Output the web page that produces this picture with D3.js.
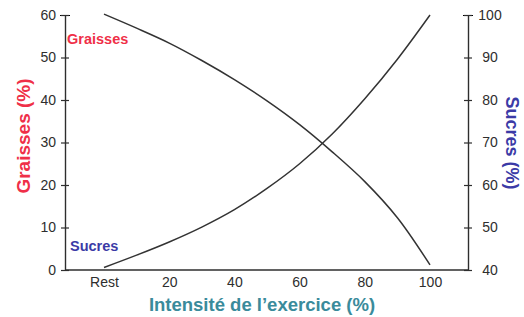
<!DOCTYPE html>
<html><head><meta charset="utf-8">
<script src="https://cdn.jsdelivr.net/npm/d3@7"></script>
<style>body{margin:0;background:#fff}svg{display:block}</style>
</head><body>
<svg id="c" width="524" height="317"></svg>
<script>
const intensity = [0, 10, 20, 30, 40, 50, 60, 70, 80, 90, 100];
const graisses = [60.2, 56.9, 53.4, 49.3, 44.8, 39.8, 34.2, 27.8, 20.8, 12.3, 1.2];
const sucres = [40.6, 43.5, 46.6, 50.1, 54.2, 59.2, 65.0, 72.0, 80.3, 89.6, 100.0];
const xTickValues = [0, 20, 40, 60, 80, 100];
const xTickLabels = ["Rest", "20", "40", "60", "80", "100"];
const leftTicks = [0, 10, 20, 30, 40, 50, 60];
const rightTicks = [40, 50, 60, 70, 80, 90, 100];

const svg = d3.select("#c");
const x = d3.scaleLinear().domain([0, 100]).range([104, 430]);
const yL = d3.scaleLinear().domain([0, 60]).range([270, 15]);
const yR = d3.scaleLinear().domain([40, 100]).range([270, 15]);
const axL = 65, axR = 468;
const ink = "#2e2e2e";
const font = "Liberation Sans, Arial, sans-serif";

// axes
const gL = svg.append("g").attr("transform", `translate(${axL},0)`)
  .call(d3.axisLeft(yL).tickValues(leftTicks).tickSize(0).tickPadding(9));
const gR = svg.append("g").attr("transform", `translate(${axR},0)`)
  .call(d3.axisRight(yR).tickValues(rightTicks).tickSize(0).tickPadding(13));
[gL, gR].forEach(g => {
  g.select(".domain").attr("stroke", ink).attr("stroke-width", 1.4);
  g.selectAll(".tick text").attr("fill", ink).attr("font-family", font).attr("font-size", 14);
  g.selectAll(".tick").append("line").attr("x1", -4).attr("x2", 4).attr("stroke", ink).attr("stroke-width", 1.2);
});
gR.selectAll(".tick text").attr("text-anchor", "middle").attr("x", 22);
gL.selectAll(".tick").filter(d => d === 60).select("line").attr("x1", -5).attr("x2", 5);
gR.selectAll(".tick").filter(d => d === 100).select("line").attr("x1", -5).attr("x2", 5);

// bottom axis line + labels
const gB = svg.append("g").attr("transform", `translate(0,270)`)
  .call(d3.axisBottom(x).tickValues(xTickValues).tickSize(0).tickPadding(7)
    .tickFormat((d, i) => xTickLabels[i]));
gB.select(".domain").remove();
gB.append("line").attr("x1", axL).attr("x2", axR).attr("stroke", ink).attr("stroke-width", 1.4);
gB.selectAll(".tick text").attr("fill", ink).attr("font-family", font).attr("font-size", 14);

// lines
const lineG = d3.line().x((d, i) => x(intensity[i])).y(d => yL(d)).curve(d3.curveCatmullRom.alpha(0.5));
const lineS = d3.line().x((d, i) => x(intensity[i])).y(d => yR(d)).curve(d3.curveCatmullRom.alpha(0.5));
svg.append("path").attr("d", lineG(graisses)).attr("fill", "none").attr("stroke", "#333").attr("stroke-width", 1.5);
svg.append("path").attr("d", lineS(sucres)).attr("fill", "none").attr("stroke", "#333").attr("stroke-width", 1.5);

// labels
const red = "#ef2f48", blue = "#3b3aa6", teal = "#3a8b9b";
svg.append("text").attr("x", 67).attr("y", 44).text("Graisses")
  .attr("fill", red).attr("font-family", font).attr("font-weight", "bold").attr("font-size", 14.5);
svg.append("text").attr("x", 70).attr("y", 251).text("Sucres")
  .attr("fill", blue).attr("font-family", font).attr("font-weight", "bold").attr("font-size", 14.5);
svg.append("text").attr("transform", "translate(30,136) rotate(-90)").attr("text-anchor", "middle")
  .text("Graisses (%)").attr("fill", red).attr("font-family", font).attr("font-weight", "bold").attr("font-size", 19);
svg.append("text").attr("transform", "translate(506,143) rotate(90)").attr("text-anchor", "middle")
  .text("Sucres (%)").attr("fill", blue).attr("font-family", font).attr("font-weight", "bold").attr("font-size", 18);
svg.append("text").attr("x", 262).attr("y", 311).attr("text-anchor", "middle")
  .text("Intensité de l’exercice (%)").attr("fill", teal).attr("font-family", font).attr("font-weight", "bold").attr("font-size", 18.5);
</script>
</body></html>
